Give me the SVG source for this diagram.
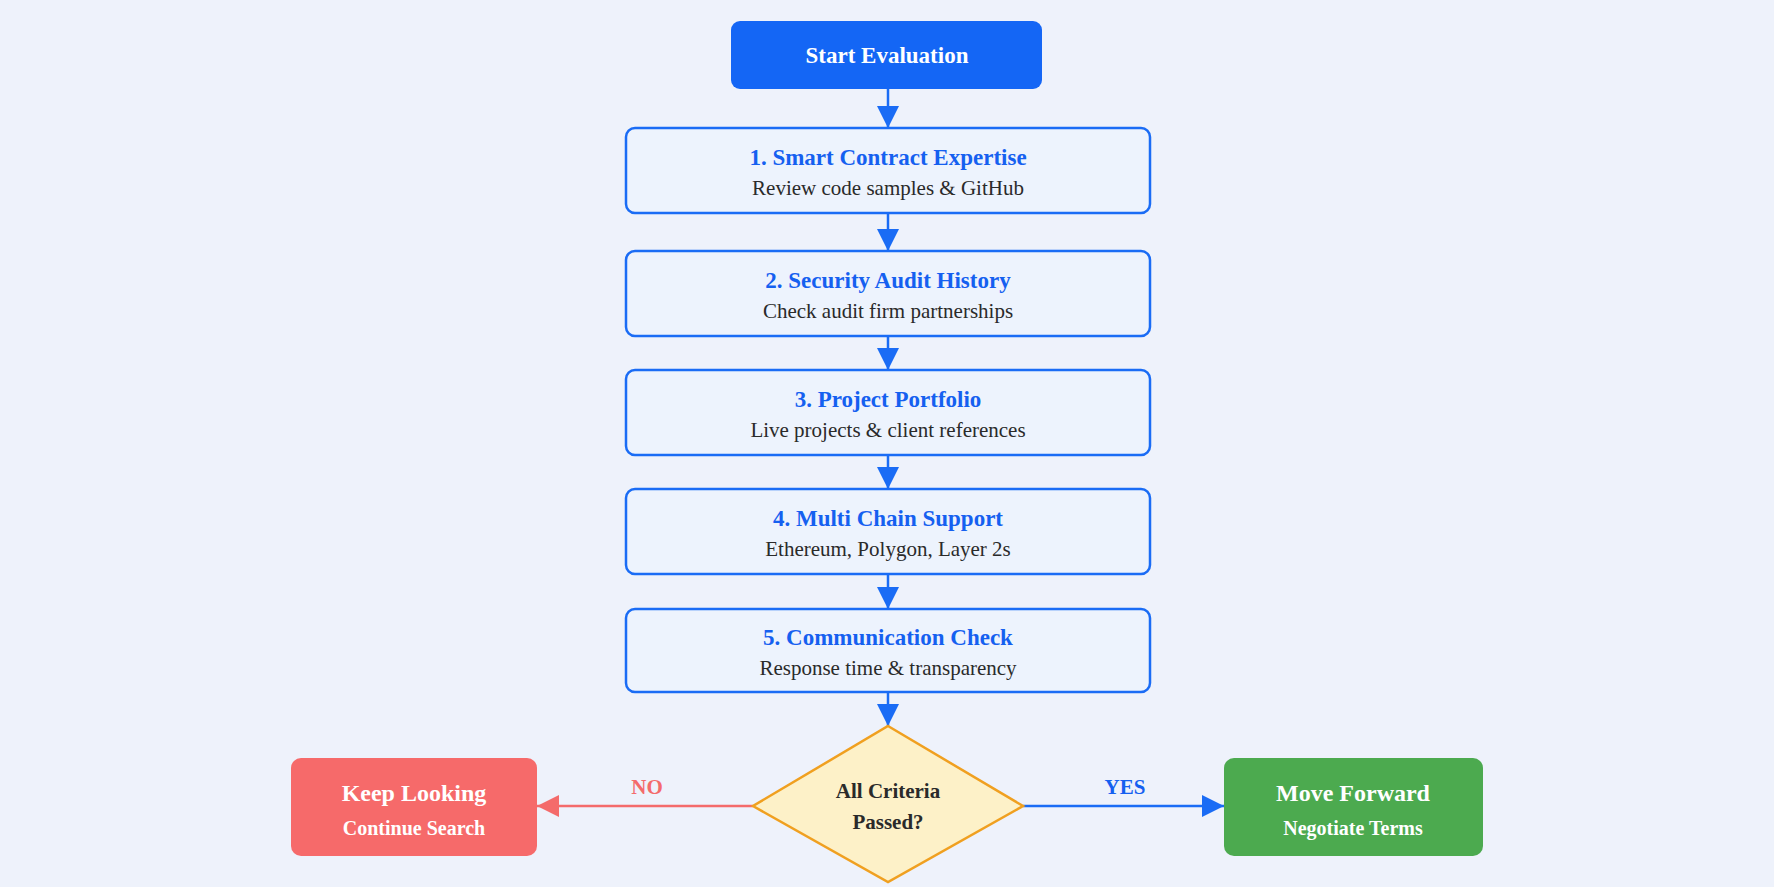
<svg xmlns="http://www.w3.org/2000/svg" width="1774" height="887" viewBox="0 0 1774 887">
<defs>
<style>
text{font-family:"Liberation Serif","Times New Roman",serif;text-anchor:middle}
.step{fill:#edf3fd;stroke:#1a6cf5;stroke-width:2.5}
.t{font-size:23px;font-weight:bold;fill:#1560f0}
.s{font-size:21px;fill:#2a2a2a}
.w{fill:#fff;font-weight:bold}
.c{stroke:#1a6cf5;stroke-width:2.5;fill:none}
</style>
<marker id="ab" viewBox="0 0 10 10" refX="10" refY="5" markerWidth="10" markerHeight="10" markerUnits="userSpaceOnUse" orient="auto"><path d="M0,0L10,5L0,10z" fill="#1a6cf5"/></marker>
<marker id="abig" viewBox="0 0 10 10" refX="10" refY="5" markerWidth="22" markerHeight="22" markerUnits="userSpaceOnUse" orient="auto"><path d="M0,0L10,5L0,10z" fill="#1a6cf5"/></marker>
<marker id="ar" viewBox="0 0 10 10" refX="10" refY="5" markerWidth="22" markerHeight="22" markerUnits="userSpaceOnUse" orient="auto"><path d="M0,0L10,5L0,10z" fill="#f46b6b"/></marker>
</defs>
<rect width="1774" height="887" fill="#eef2fb"/>
<g id="connectors">
<path class="c" d="M888,89V128" marker-end="url(#abig)"/>
<path class="c" d="M888,213V251" marker-end="url(#abig)"/>
<path class="c" d="M888,336V370" marker-end="url(#abig)"/>
<path class="c" d="M888,455V489" marker-end="url(#abig)"/>
<path class="c" d="M888,574V609" marker-end="url(#abig)"/>
<path class="c" d="M888,692V726" marker-end="url(#abig)"/>
<path d="M753,806H537" stroke="#f46b6b" stroke-width="2.5" marker-end="url(#ar)"/>
<path class="c" d="M1023,806H1224" marker-end="url(#abig)"/>
<text x="647" y="794" font-size="21" font-weight="bold" fill="#f46b6b">NO</text>
<text x="1125" y="794" font-size="21" font-weight="bold" fill="#1560f0">YES</text>
</g>
<g id="start"><rect x="731" y="21" width="311" height="68" rx="9" fill="#1466f5"/><text class="w" x="887" y="63" font-size="23">Start Evaluation</text></g>
<g id="step1"><rect class="step" x="626" y="128" width="524" height="85" rx="9"/><text class="t" x="888" y="165">1. Smart Contract Expertise</text><text class="s" x="888" y="195">Review code samples &amp; GitHub</text></g>
<g id="step2"><rect class="step" x="626" y="251" width="524" height="85" rx="9"/><text class="t" x="888" y="288">2. Security Audit History</text><text class="s" x="888" y="318">Check audit firm partnerships</text></g>
<g id="step3"><rect class="step" x="626" y="370" width="524" height="85" rx="9"/><text class="t" x="888" y="407">3. Project Portfolio</text><text class="s" x="888" y="437">Live projects &amp; client references</text></g>
<g id="step4"><rect class="step" x="626" y="489" width="524" height="85" rx="9"/><text class="t" x="888" y="526">4. Multi Chain Support</text><text class="s" x="888" y="556">Ethereum, Polygon, Layer 2s</text></g>
<g id="step5"><rect class="step" x="626" y="609" width="524" height="83" rx="9"/><text class="t" x="888" y="645">5. Communication Check</text><text class="s" x="888" y="675">Response time &amp; transparency</text></g>
<g id="decision"><path d="M888,726L1023,806L888,882L753,806z" fill="#fdf1c8" stroke="#f0a020" stroke-width="2.5"/><text x="888" y="798" font-size="21" font-weight="bold" fill="#2a2a2a">All Criteria</text><text x="888" y="829" font-size="21" font-weight="bold" fill="#2a2a2a">Passed?</text></g>
<g id="keep"><rect x="291" y="758" width="246" height="98" rx="10" fill="#f66a6a"/><text class="w" x="414" y="801" font-size="24">Keep Looking</text><text class="w" x="414" y="835" font-size="20">Continue Search</text></g>
<g id="move"><rect x="1224" y="758" width="259" height="98" rx="10" fill="#4caa4f"/><text class="w" x="1353" y="801" font-size="24">Move Forward</text><text class="w" x="1353" y="835" font-size="20">Negotiate Terms</text></g>
</svg>
